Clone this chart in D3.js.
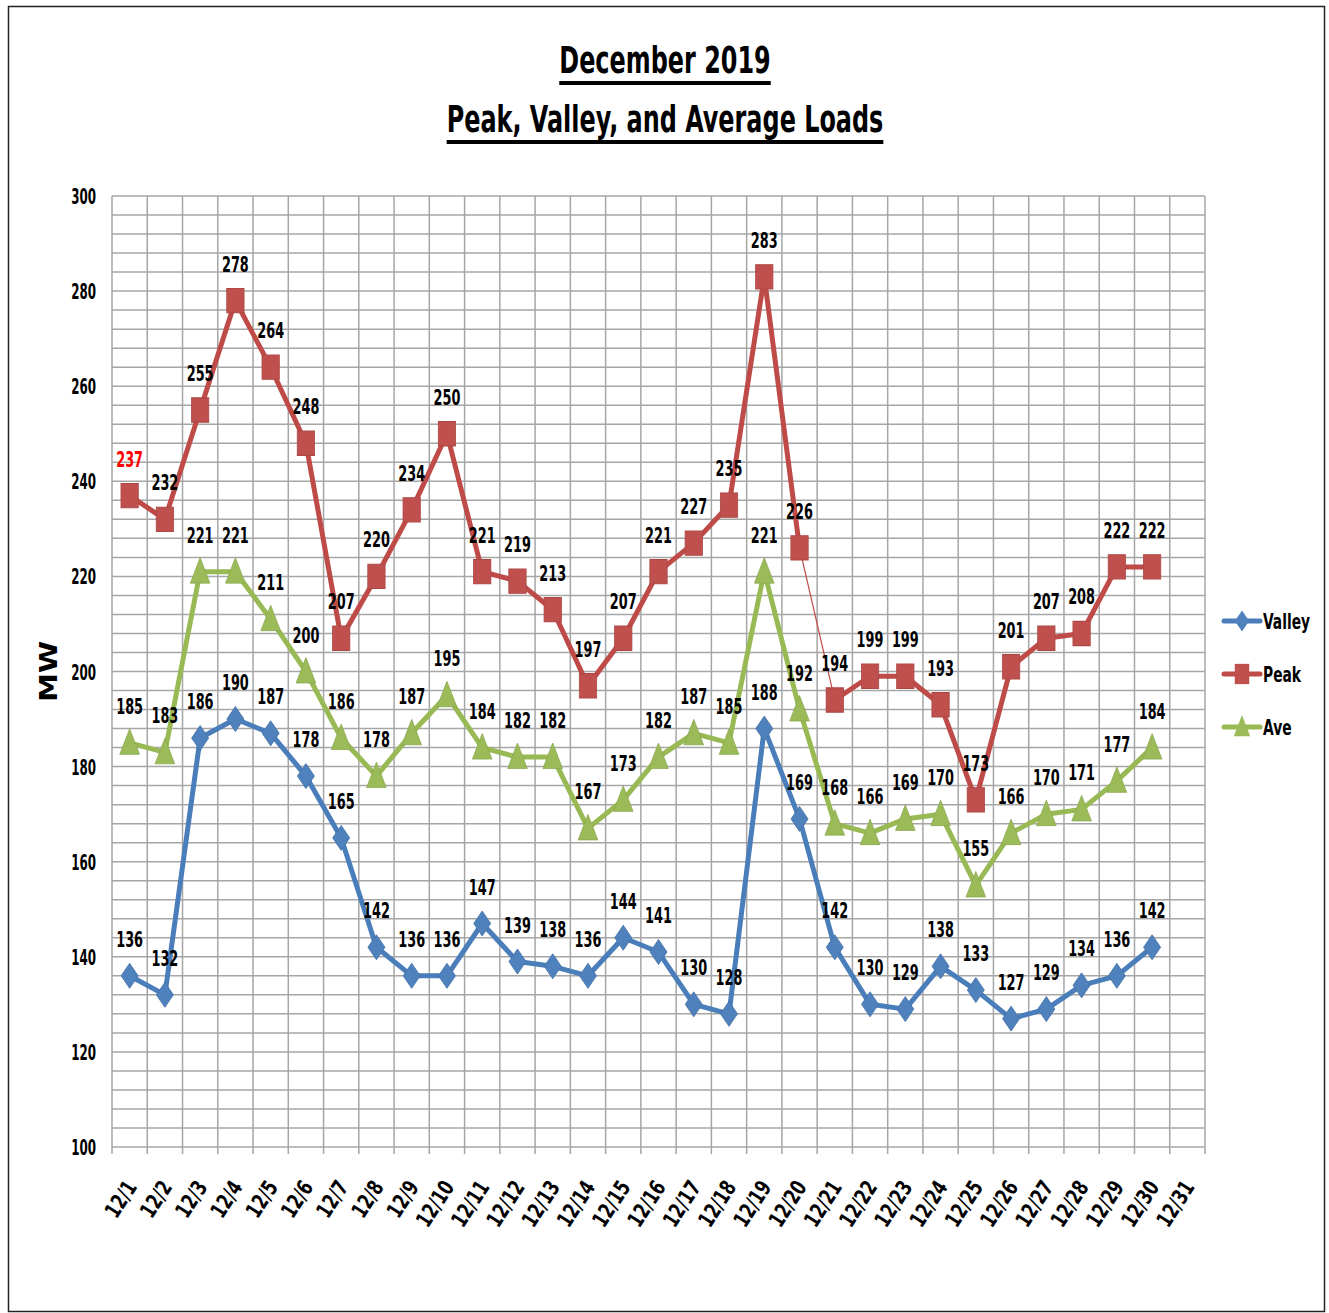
<!DOCTYPE html>
<html>
<head>
<meta charset="utf-8">
<script src="https://cdn.jsdelivr.net/npm/d3@7"></script>
<style>
  body { margin: 0; background: #fff; }
  text { font-family: "DejaVu Sans Condensed", "DejaVu Sans", sans-serif; font-weight: bold; }
</style>
</head>
<body>
<div id="chart"></div>
<script>
const days = d3.range(1, 32).map(d => "12/" + d)
const valley = [136,132,186,190,187,178,165,142,136,136,147,139,138,136,144,141,130,128,188,169,142,130,129,138,133,127,129,134,136,142]
const peak = [237,232,255,278,264,248,207,220,234,250,221,219,213,197,207,221,227,235,283,226,194,199,199,193,173,201,207,208,222,222]
const ave = [185,183,221,221,211,200,186,178,187,195,184,182,182,167,173,182,187,185,221,192,168,166,169,170,155,166,170,171,177,184]
const yTicks = [100,120,140,160,180,200,220,240,260,280,300]

const width = 1329
const height = 1313
const plotLeft = 112, plotRight = 1205, plotTop = 196, plotBottom = 1147

const svg = d3.select("#chart")
    .append("svg")
    .attr("width", width)
    .attr("height", height)

// outer frame
svg.append("rect")
    .attr("x", 8.5).attr("y", 6.5)
    .attr("width", 1316).attr("height", 1305)
    .attr("fill", "none").attr("stroke", "#222").attr("stroke-width", 1.5)

const x = d3.scaleBand().domain(days).range([plotLeft, plotRight])
const y = d3.scaleLinear().domain([100, 300]).range([plotBottom, plotTop])

// grid
const grid = svg.append("g").attr("stroke", "#a6a6a6").attr("stroke-width", 1.5)
grid.selectAll(".h")
    .data(d3.range(100, 301, 4))
    .enter().append("line")
    .attr("x1", plotLeft).attr("x2", plotRight)
    .attr("y1", d => y(d)).attr("y2", d => y(d))
grid.selectAll(".v")
    .data(days.concat(["end"]))
    .enter().append("line")
    .attr("x1", (d, i) => plotLeft + i * x.bandwidth())
    .attr("x2", (d, i) => plotLeft + i * x.bandwidth())
    .attr("y1", plotTop).attr("y2", plotBottom + 7)

// y axis labels
svg.append("g").selectAll("text")
    .data(yTicks)
    .enter().append("text")
    .attr("transform", d => `translate(96, ${y(d) + 8}) scale(0.6, 1)`)
    .attr("text-anchor", "end")
    .attr("font-size", 22)
    .text(d => d)

// x axis labels
svg.append("g").selectAll("text")
    .data(days)
    .enter().append("text")
    .attr("transform", d => `translate(${x(d) + x.bandwidth() / 2 + 8}, ${plotBottom + 40}) rotate(-57) scale(0.8, 1)`)
    .attr("text-anchor", "end")
    .attr("font-size", 22)
    .text(d => d)

// y title
svg.append("text")
    .attr("transform", `translate(57, ${y(200)}) rotate(-90) scale(1.35, 1)`)
    .attr("text-anchor", "middle")
    .attr("font-size", 24)
    .attr("font-family", "DejaVu Sans, sans-serif")
    .text("MW")

// titles
const titles = [["December 2019", 73], ["Peak, Valley, and Average Loads", 132]]
titles.forEach(([t, ty]) => {
    const tg = svg.append("g").attr("transform", `translate(665, ${ty}) scale(0.7, 1)`)
    const el = tg.append("text")
        .attr("text-anchor", "middle")
        .attr("font-size", 38)
        .attr("font-family", "DejaVu Sans, sans-serif")
        .text(t)
    const bb = el.node().getBBox()
    tg.append("rect")
        .attr("x", bb.x).attr("y", 8)
        .attr("width", bb.width).attr("height", 4)
        .attr("fill", "#000")
})

const series = [
    { name: "Valley", values: valley, color: "#4a7ebb", fill: "#4f81bd", symbol: d3.symbolDiamond, size: 180, sx: 1.18, sy: 1, dy: 0 },
    { name: "Peak", values: peak, color: "#be4b48", fill: "#c0504d", symbol: d3.symbolSquare, size: 300, sx: 1, sy: 1.4, dy: 0 },
    { name: "Ave", values: ave, color: "#98b954", fill: "#9bbb59", symbol: d3.symbolTriangle, size: 260, sx: 0.8, sy: 1.2, dy: 3 },
]

const cx = i => x(days[i]) + x.bandwidth() / 2

series.forEach(s => {
    const g = svg.append("g")
    const pts = s.values.map((v, i) => [cx(i), y(v)])
    // line segments (Peak 12/20 -> 12/21 is drawn thin in the original)
    g.selectAll("line")
        .data(d3.pairs(pts))
        .enter().append("line")
        .attr("x1", d => d[0][0]).attr("y1", d => d[0][1])
        .attr("x2", d => d[1][0]).attr("y2", d => d[1][1])
        .attr("stroke", s.color)
        .attr("stroke-linecap", "round")
        .attr("stroke-width", (d, i) => (s.name === "Peak" && i === 19) ? 1.2 : 5)
    g.selectAll("path")
        .data(pts)
        .enter().append("path")
        .attr("d", d3.symbol().type(s.symbol).size(s.size))
        .attr("transform", d => `translate(${d[0]}, ${d[1] + s.dy}) scale(${s.sx}, ${s.sy})`)
        .attr("fill", s.fill)
        .attr("stroke", d3.color(s.fill).darker(0.3))
        .attr("stroke-width", 0.8)
    g.selectAll("text")
        .data(s.values)
        .enter().append("text")
        .attr("transform", (d, i) => `translate(${cx(i)}, ${y(d) - 29}) scale(0.65, 1)`)
        .attr("text-anchor", "middle")
        .attr("font-size", 22)
        .attr("fill", (d, i) => (s.name === "Peak" && i === 0) ? "#ff0000" : "#000")
        .text(d => d)
})

// legend
const legend = svg.append("g")
series.forEach((s, i) => {
    const ly = 621 + i * 53
    legend.append("line")
        .attr("x1", 1224).attr("x2", 1260).attr("y1", ly).attr("y2", ly)
        .attr("stroke", s.color).attr("stroke-width", 5).attr("stroke-linecap", "round")
    legend.append("path")
        .attr("d", d3.symbol().type(s.symbol).size(s.size * 0.7))
        .attr("transform", `translate(1242, ${ly + s.dy * 0.7}) scale(${s.sx}, ${s.sy})`)
        .attr("fill", s.fill)
    legend.append("text")
        .attr("transform", `translate(1263, ${ly + 8}) scale(0.7, 1)`)
        .attr("font-size", 22)
        .text(s.name)
})
</script>
</body>
</html>
